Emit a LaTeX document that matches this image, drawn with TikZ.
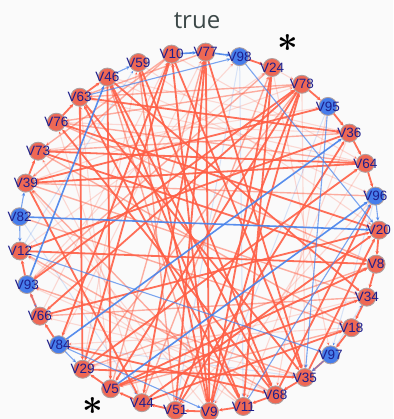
\documentclass[tikz,border=0pt]{standalone}
\usepackage{fontspec}
\usepackage{bm}
\setmainfont{Liberation Sans}
\newfontfamily\titlefont{Open Sans}
\usetikzlibrary{arrows.meta}
\definecolor{edgered}{RGB}{255,95,70}
\definecolor{edgeblue}{RGB}{70,130,235}
\definecolor{nodered}{RGB}{238,104,84}
\definecolor{nodeblue}{RGB}{70,125,235}
\definecolor{nodering}{RGB}{175,160,160}
\definecolor{labnavy}{RGB}{30,30,140}
\definecolor{titlegray}{RGB}{60,72,72}
\definecolor{bgcol}{RGB}{250,250,250}
\tikzset{
  edgebase/.style={-{Stealth[length=4pt,width=3.5pt]}},
  e1/.style={edgebase, draw=edgered, line width=1.8pt, draw opacity=0.9},
  e2/.style={edgebase, draw=edgered, line width=1.4pt, draw opacity=0.5},
  e3/.style={edgebase, draw=edgered, line width=1.1pt, draw opacity=0.22},
  b1/.style={edgebase, draw=edgeblue, line width=1.6pt, draw opacity=0.9},
  b2/.style={edgebase, draw=edgeblue, line width=1.1pt, draw opacity=0.7},
  b3/.style={edgebase, draw=edgeblue, line width=1pt, draw opacity=0.2},
  vnode/.style={circle, minimum size=18pt, inner sep=0pt, draw=nodering, line width=0.9pt},
  nodeR/.style={vnode, fill=nodered},
  nodeB/.style={vnode, fill=nodeblue},
  vlab/.style={text=labnavy, font=\fontsize{13.5}{13.5}\selectfont, inner sep=0pt},
  ttl/.style={text=titlegray, font=\titlefont\fontsize{24}{24}\selectfont, inner sep=0pt},
  star/.style={text=black, inner sep=0pt}
}
\begin{document}
\begin{tikzpicture}[x=1pt,y=1pt]
\useasboundingbox[fill=bgcol] (0,0) rectangle (393,419);
\node[ttl, anchor=base] (title) at (197,390) {true};
% nodes (placement only, drawn invisibly first so edges can refer to them)
\foreach \n/\c [count=\i from 0] in {V20/R,V96/B,V64/R,V36/R,V95/B,V78/R,V24/R,V98/B,V77/R,V10/R,V59/R,V46/R,V63/R,V76/R,V73/R,V39/R,V82/B,V12/R,V93/B,V66/R,V84/B,V29/R,V5/R,V44/R,V51/R,V9/R,V11/R,V68/R,V35/R,V97/B,V18/R,V34/R,V8/R}{
  \pgfmathsetmacro\ang{0.6+\i*360/33}
  \path ([shift={(\ang:180)}]199,187) node[circle, minimum size=18pt, inner sep=0pt] (\n) {};
}
% ring edges
\foreach \a/\b in {V98/V24,V78/V95,V95/V36,V36/V64,V64/V96,V20/V8,V8/V34,V34/V18,V18/V97,V97/V35,V35/V68,V68/V11,V11/V9,V9/V51,V51/V44,V44/V5,V5/V29,V84/V66,V66/V93,V93/V12,V39/V73,V63/V46,V76/V63}
  \draw[e1] (\a) -- (\b);
\draw[e3] (V24) -- (V78);
% light red
\foreach \a/\b in {V59/V20,V46/V96,V63/V64,V76/V36,V73/V95,V39/V78,V12/V24,V93/V98,V66/V10,V84/V77,V29/V59,V5/V63,V44/V76,V51/V73,V9/V39,V11/V12,V68/V93,V35/V66,V18/V84,V34/V29,V8/V5,V20/V44,V96/V51,V64/V9,V36/V11,V95/V68,V78/V35,V24/V97,V10/V64,V46/V36}
  \draw[e3] (\a) -- (\b);
% light blue
\foreach \a/\b in {V98/V51,V98/V11,V95/V9,V97/V34,V93/V66,V82/V44,V96/V97,V12/V59,V84/V35}
  \draw[b3] (\a) -- (\b);
% medium red
\foreach \a/\b in {V76/V8,V73/V18,V39/V34,V10/V39,V10/V73,V77/V63,V78/V63,V78/V76,V24/V93,V36/V73,V64/V76,V96/V39,V8/V29,V34/V66,V18/V5,V35/V93,V68/V12,V11/V39,V9/V46,V51/V59,V44/V24,V5/V77,V29/V78,V82/V18}
  \draw[e2] (\a) -- (\b);
% strong red
\foreach \a/\b in {V63/V29,V46/V5,V64/V39,V73/V64,V24/V11,V59/V9,V10/V29,V10/V84,V77/V44,V77/V51,V77/V35,V78/V51,V78/V5,V78/V66,V36/V12,V95/V39,V12/V8,V93/V78,V66/V20,V84/V68,V29/V35,V5/V34,V44/V18,V46/V11,V63/V35,V9/V10,V68/V76,V73/V8,V76/V20,V39/V44,V46/V68,V10/V35,V59/V68,V77/V9,V44/V20,V51/V36,V9/V78,V11/V63,V35/V20,V68/V96,V5/V8,V29/V64,V63/V36,V46/V34,V24/V9}
  \draw[e1] (\a) -- (\b);
% blue
\foreach \a/\b in {V12/V97,V63/V98,V95/V35,V11/V96,V84/V29,V82/V12,V82/V39,V46/V59,V96/V20,V97/V35,V84/V9,V98/V20}
  \draw[b2] (\a) -- (\b);
\foreach \a/\b in {V82/V20,V84/V36,V5/V96,V93/V46,V77/V98,V10/V77}
  \draw[b1] (\a) -- (\b);
% visible nodes and labels
\foreach \n/\c in {V20/R,V96/B,V64/R,V36/R,V95/B,V78/R,V24/R,V98/B,V77/R,V10/R,V59/R,V46/R,V63/R,V76/R,V73/R,V39/R,V82/B,V12/R,V93/B,V66/R,V84/B,V29/R,V5/R,V44/R,V51/R,V9/R,V11/R,V68/R,V35/R,V97/B,V18/R,V34/R,V8/R}{
  \node[node\c] at (\n) {};
  \node[vlab] at (\n) {\n};
}
\node[star] (star1) at (288,376) {\scalebox{3.6}{$\bm{\ast}$}};
\node[star] (star2) at (93,13) {\scalebox{3.6}{$\bm{\ast}$}};
\end{tikzpicture}
\end{document}
